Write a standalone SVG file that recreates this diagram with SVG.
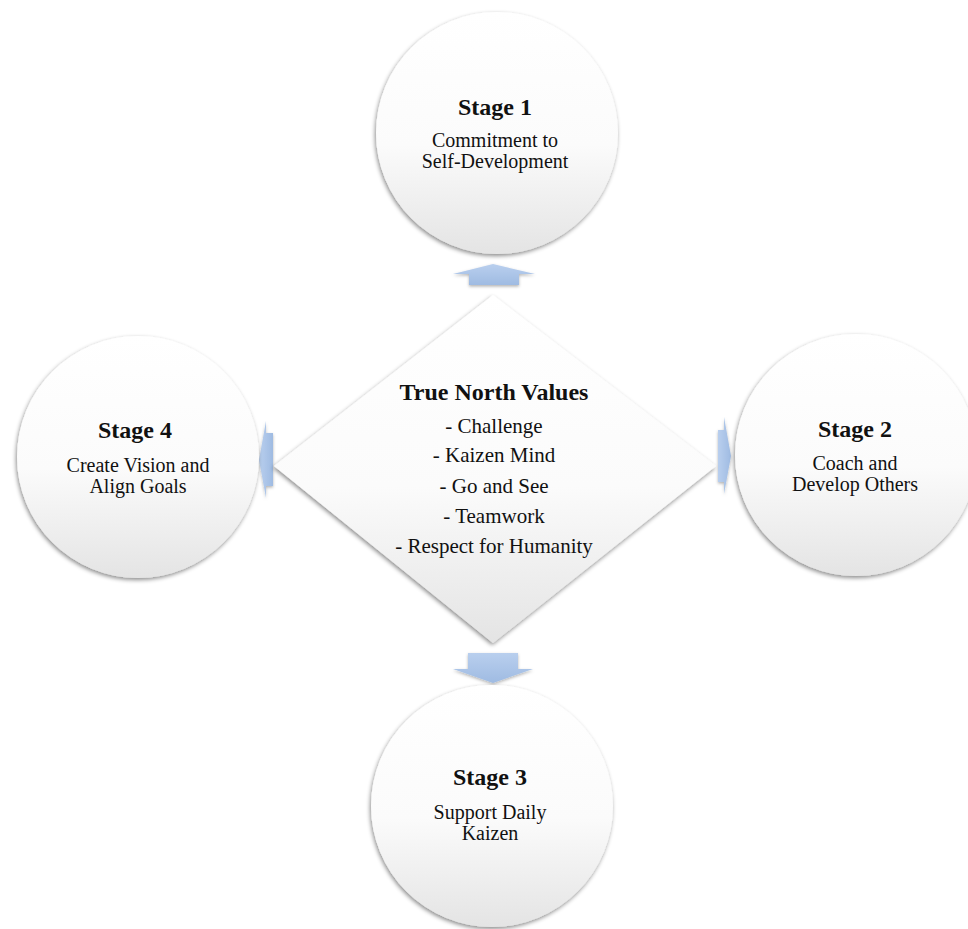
<svg xmlns="http://www.w3.org/2000/svg" width="968" height="929" viewBox="0 0 968 929">
<defs>
<linearGradient id="gFill" x1="0" y1="0" x2="0" y2="1">
<stop offset="0" stop-color="#ffffff"/>
<stop offset="0.55" stop-color="#fbfbfb"/>
<stop offset="1" stop-color="#e4e4e4"/>
</linearGradient>
<linearGradient id="gArrowV" x1="0" y1="0" x2="0" y2="1">
<stop offset="0" stop-color="#b9cfee"/>
<stop offset="1" stop-color="#9fbbe2"/>
</linearGradient>
<linearGradient id="gArrowH" x1="0" y1="0" x2="1" y2="0">
<stop offset="0" stop-color="#b9cfee"/>
<stop offset="1" stop-color="#9fbbe2"/>
</linearGradient>
<filter id="shadow" x="-10%" y="-10%" width="120%" height="120%">
<feDropShadow dx="-1" dy="2" stdDeviation="2.2" flood-color="#000" flood-opacity="0.45"/>
</filter>
<filter id="ashadow" x="-20%" y="-20%" width="140%" height="160%">
<feDropShadow dx="0" dy="1.5" stdDeviation="1.5" flood-color="#000" flood-opacity="0.3"/>
</filter>
</defs>
<style>
.shape{fill:url(#gFill);filter:url(#shadow);}
.arrow{filter:url(#ashadow);}
.h{font-family:"Liberation Serif","Times New Roman",serif;font-weight:bold;font-size:24px;fill:#111;text-anchor:middle;}
.t{font-family:"Liberation Serif","Times New Roman",serif;font-size:21px;fill:#111;text-anchor:middle;}
.s{font-family:"Liberation Serif","Times New Roman",serif;font-size:20px;fill:#111;text-anchor:middle;}
</style>
<rect width="968" height="929" fill="#ffffff"/>

<g id="connectors">
<polygon class="arrow" fill="url(#gArrowV)" points="493,264 535,274 519,274 519,285 469,285 469,274 453,274"/>
<polygon class="arrow" fill="url(#gArrowV)" points="468,653 518,653 518,669 533,669 493,683 453,669 468,669"/>
<polygon class="arrow" fill="url(#gArrowH)" points="259,460 266,421 266,433 273,433 273,486 266,486 266,498"/>
<polygon class="arrow" fill="url(#gArrowH)" points="718,430 724,430 724,417 731,456 724,494 724,482 718,482"/>
</g>

<g id="stage1">
<circle class="shape" cx="497" cy="133" r="121"/>
<text class="h" x="495" y="115">Stage 1</text>
<text class="s" x="495" y="147">Commitment to</text>
<text class="s" x="495" y="168">Self-Development</text>
</g>

<g id="stage4">
<circle class="shape" cx="138" cy="457" r="121"/>
<text class="h" x="135" y="438">Stage 4</text>
<text class="s" x="138" y="472">Create Vision and</text>
<text class="s" x="138" y="493">Align Goals</text>
</g>

<g id="stage2">
<circle class="shape" cx="856" cy="455" r="121"/>
<text class="h" x="855" y="437">Stage 2</text>
<text class="s" x="855" y="470">Coach and</text>
<text class="s" x="855" y="491">Develop Others</text>
</g>

<g id="stage3">
<circle class="shape" cx="492" cy="806" r="121"/>
<text class="h" x="490" y="785">Stage 3</text>
<text class="s" x="490" y="819">Support Daily</text>
<text class="s" x="490" y="840">Kaizen</text>
</g>

<g id="true-north">
<polygon class="shape" points="493,295 716,466 493,643 274,466"/>
<text class="h" x="494" y="400">True North Values</text>
<text class="t" x="494" y="433">- Challenge</text>
<text class="t" x="494" y="462">- Kaizen Mind</text>
<text class="t" x="494" y="493">- Go and See</text>
<text class="t" x="494" y="523">- Teamwork</text>
<text class="t" x="494" y="553">- Respect for Humanity</text>
</g>
</svg>
